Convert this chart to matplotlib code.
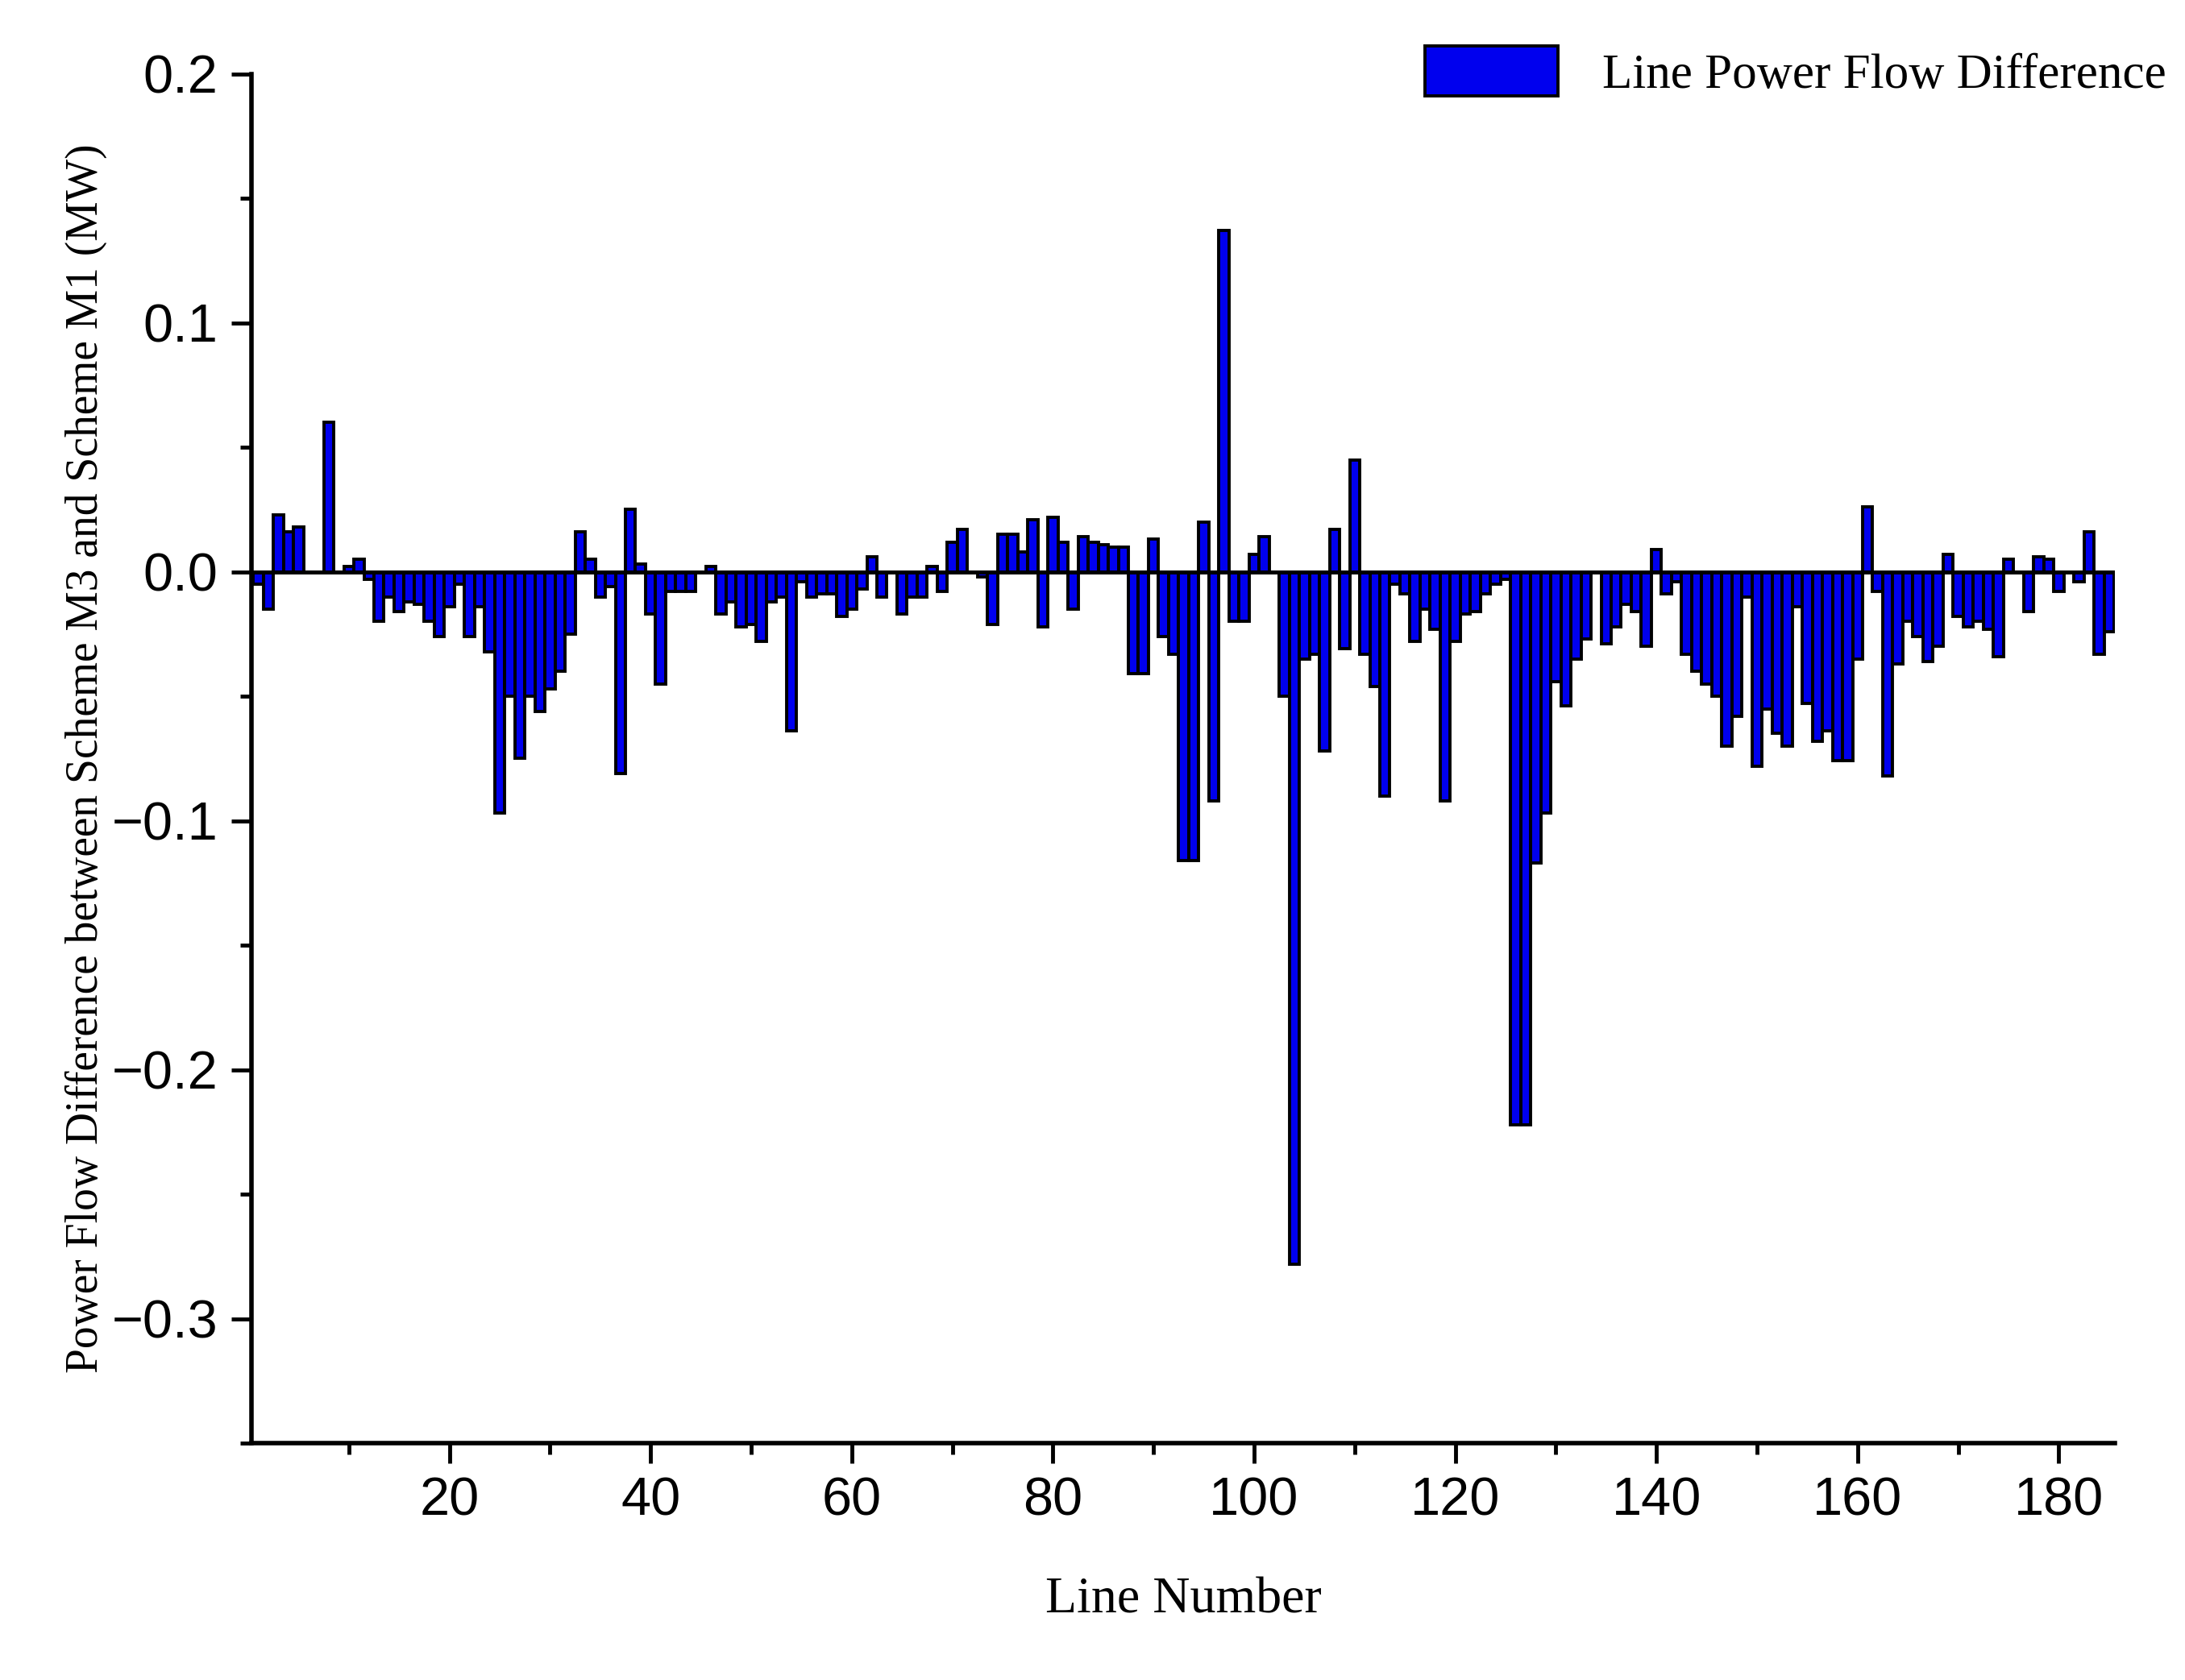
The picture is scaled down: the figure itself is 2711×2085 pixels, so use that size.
import numpy as np
import matplotlib
matplotlib.use("Agg")
import matplotlib.pyplot as plt
from matplotlib.ticker import MultipleLocator, FuncFormatter

# power flow difference per line (MW), lines 1..185
line_values = [
    -0.005, -0.015, 0.023, 0.016, 0.018, 0, 0, 0.06, 0, 0.002,
    0.005, -0.003, -0.02, -0.01, -0.016, -0.012, -0.013, -0.02, -0.026, -0.014,
    -0.005, -0.026, -0.014, -0.032, -0.097, -0.05, -0.075, -0.05, -0.056, -0.047,
    -0.04, -0.025, 0.016, 0.005, -0.01, -0.006, -0.081, 0.025, 0.003, -0.017,
    -0.045, -0.008, -0.008, -0.008, 0, 0.002, -0.017, -0.012, -0.022, -0.021,
    -0.028, -0.012, -0.01, -0.064, -0.004, -0.01, -0.009, -0.009, -0.018, -0.015,
    -0.007, 0.006, -0.01, 0, -0.017, -0.01, -0.01, 0.002, -0.008, 0.012,
    0.017, 0, -0.002, -0.021, 0.015, 0.015, 0.008, 0.021, -0.022, 0.022,
    0.012, -0.015, 0.014, 0.012, 0.011, 0.01, 0.01, -0.041, -0.041, 0.013,
    -0.026, -0.033, -0.116, -0.116, 0.02, -0.092, 0.137, -0.02, -0.02, 0.007,
    0.014, 0, -0.05, -0.278, -0.035, -0.033, -0.072, 0.017, -0.031, 0.045,
    -0.033, -0.046, -0.09, -0.005, -0.009, -0.028, -0.015, -0.023, -0.092, -0.028,
    -0.017, -0.016, -0.009, -0.005, -0.003, -0.222, -0.222, -0.117, -0.097, -0.044,
    -0.054, -0.035, -0.027, 0, -0.029, -0.022, -0.013, -0.016, -0.03, 0.009,
    -0.009, -0.004, -0.033, -0.04, -0.045, -0.05, -0.07, -0.058, -0.01, -0.078,
    -0.055, -0.065, -0.07, -0.014, -0.053, -0.068, -0.064, -0.076, -0.076, -0.035,
    0.026, -0.008, -0.082, -0.037, -0.02, -0.026, -0.036, -0.03, 0.007, -0.018,
    -0.022, -0.02, -0.023, -0.034, 0.005, 0, -0.016, 0.006, 0.005, -0.008,
    0, -0.004, 0.016, -0.033, -0.024,
]
line_numbers = np.arange(1, len(line_values) + 1)
x_ticks = [20, 40, 60, 80, 100, 120, 140, 160, 180]

fig = plt.figure(figsize=(27.11, 20.85), dpi=100)
ax = fig.add_axes([0.115, 0.141, 0.853, 0.815])

ax.bar(line_numbers, line_values, width=1.0, color="#0000ee", edgecolor="black",
       linewidth=2.8, label="Line Power Flow Difference")
ax.axhline(0, color="black", linewidth=3.5)

ax.set_xlim(0.3, 185.6)
ax.set_ylim(-0.35, 0.2)
ax.set_xticks(x_ticks)
ax.xaxis.set_minor_locator(MultipleLocator(10))
ax.yaxis.set_major_locator(MultipleLocator(0.1))
ax.yaxis.set_minor_locator(MultipleLocator(0.05))
ax.yaxis.set_major_formatter(FuncFormatter(lambda v, p: ("%.1f" % v).replace("-", "\u2212")))

for s in ["top", "right"]:
    ax.spines[s].set_visible(False)
for s in ["left", "bottom"]:
    ax.spines[s].set_linewidth(4)

ax.tick_params(which="major", length=18, width=3.5, labelsize=48, pad=12)
ax.tick_params(which="minor", length=10, width=3.5)
for t in ax.get_xticklabels() + ax.get_yticklabels():
    t.set_fontfamily("Liberation Sans")

ax.set_xlabel("Line Number", fontfamily="Liberation Serif", fontsize=46, labelpad=45)
ax.set_ylabel("Power Flow Difference between Scheme M3 and Scheme M1 (MW)",
              fontfamily="Liberation Serif", fontsize=40, labelpad=4)

ax.legend(loc="upper right", bbox_to_anchor=(1.038, 1.035), frameon=False,
          prop={"family": "Liberation Serif", "size": 44},
          handlelength=2.7, handleheight=1.2, handletextpad=0.9, borderaxespad=0)

fig.savefig("out.png", dpi=100)
